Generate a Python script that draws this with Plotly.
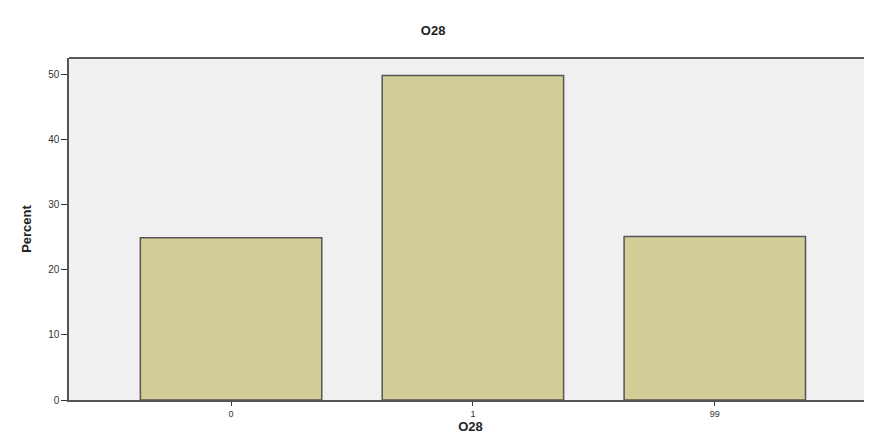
import plotly.graph_objects as go

categories = ["0", "1", "99"]
percents = [24.9, 49.8, 25.1]
y_ticks = [0, 10, 20, 30, 40, 50]

fig = go.Figure()
fig.add_trace(go.Bar(
    x=categories, y=percents, width=0.75,
    marker=dict(color="#d3ce97", line=dict(color="#555555", width=1.5)),
))

# the page adds an 8px body margin, so the figure is sized/offset to compensate
fig.update_layout(
    width=864, height=431,
    margin=dict(l=61, r=0, t=50, b=39, autoexpand=False),
    paper_bgcolor="white", plot_bgcolor="#f0f0f0",
    showlegend=False,
    title=dict(text="<b>O28</b>", x=0.492, xanchor="center", y=0.949, yanchor="middle",
               font=dict(family="Liberation Sans, Arial", size=13, color="#222")),
    font=dict(family="Liberation Sans, Arial", color="#222"),
)
fig.update_xaxes(
    type="category", range=[-0.67, 2.65],
    showline=True, linecolor="#555555", linewidth=1.5,
    ticks="outside", ticklen=4, tickcolor="#333", tickwidth=1,
    tickfont=dict(size=9, color="#333"),
    title=dict(text="<b>O28</b>", font=dict(size=13, color="#222"), standoff=0),
    showgrid=False, zeroline=False, automargin=False,
)
fig.update_yaxes(
    range=[0, 52.5], tickvals=y_ticks,
    showline=True, linecolor="#555555", linewidth=1.5,
    ticks="outside", ticklen=6, tickcolor="#333", tickwidth=1,
    tickfont=dict(size=10, color="#333"),
    title=dict(text="<b>Percent</b>", font=dict(family="Liberation Sans Narrow, Liberation Sans, Arial", size=13, color="#222"), standoff=14),
    showgrid=False, zeroline=False, automargin=False,
)
fig.add_shape(type="line", xref="paper", yref="paper", x0=0, x1=1, y0=1, y1=1,
              line=dict(color="#222", width=1.5))

fig.write_html("out.html")
